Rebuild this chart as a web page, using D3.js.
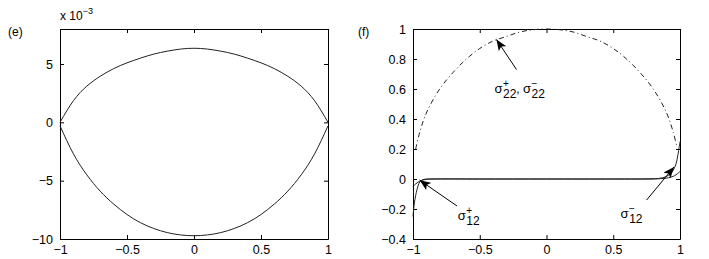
<!DOCTYPE html>
<html>
<head>
<meta charset="utf-8">
<script src="https://cdn.jsdelivr.net/npm/d3@7"></script>
<style>
  body { margin: 0; background: #fff; }
  svg { display: block; font-family: "Liberation Sans", Arial, sans-serif; }
</style>
</head>
<body>
<script>
// Panel (e): values in units of 1e-3
const eX     = [-1, -0.9, -0.8, -0.7, -0.6, -0.5, -0.4, -0.3, -0.2, -0.1, 0, 0.1, 0.2, 0.3, 0.4, 0.5, 0.6, 0.7, 0.8, 0.9, 1];
const eUpper = [0, 1.85, 3.1, 3.95, 4.6, 5.1, 5.5, 5.85, 6.1, 6.28, 6.35, 6.28, 6.1, 5.85, 5.5, 5.1, 4.6, 3.95, 3.1, 1.85, 0];
const eLower = [-0.3, -2.7, -4.5, -5.9, -7.0, -7.9, -8.6, -9.1, -9.45, -9.65, -9.72, -9.65, -9.45, -9.1, -8.6, -7.9, -7.0, -5.9, -4.5, -2.7, -0.3];
const eYTicks = [-10, -5, 0, 5];

// Panel (f): stresses
const s22X = [-0.98, -0.95, -0.9, -0.8, -0.7, -0.6, -0.5, -0.4, -0.3, -0.2, -0.1, 0, 0.1, 0.2, 0.3, 0.4, 0.5, 0.6, 0.7, 0.8, 0.9, 0.95, 0.975];
const s22  = [0.2, 0.31, 0.44, 0.6, 0.71, 0.8, 0.87, 0.92, 0.95, 0.98, 0.995, 1, 0.995, 0.98, 0.95, 0.92, 0.87, 0.8, 0.71, 0.6, 0.44, 0.31, 0.22];
const s12X = [-1, -0.995, -0.99, -0.98, -0.97, -0.96, -0.95, -0.93, -0.9, -0.85, -0.5, 0, 0.5, 0.8, 0.85, 0.88, 0.9, 0.93, 0.95, 0.97, 0.98, 0.99, 1];
const s12p = [-0.25, -0.2, -0.16, -0.11, -0.07, -0.04, -0.02, -0.006, 0, 0, 0, 0, 0, 0, 0.002, 0.004, 0.006, 0.012, 0.018, 0.028, 0.035, 0.042, 0.05];
const s12m = [-0.05, -0.045, -0.04, -0.033, -0.026, -0.02, -0.015, -0.008, -0.003, 0, 0, 0, 0, 0.002, 0.005, 0.011, 0.018, 0.036, 0.06, 0.1, 0.14, 0.19, 0.25];
const fYTicks = [-0.4, -0.2, 0, 0.2, 0.4, 0.6, 0.8, 1];

const xTicks = [-1, -0.5, 0, 0.5, 1];

// arrow annotations in data coordinates of panel (f)
const annotations = [
    { tip: [-0.375, 0.93], tail: [-0.225, 0.73], label: [-0.39, 0.575], parts: [["+", "22"], ["\u2212", "22"]] },
    { tip: [-0.95, -0.008], tail: [-0.67, -0.18], label: [-0.665, -0.27], parts: [["+", "12"]] },
    { tip: [0.955, 0.08], tail: [0.75, -0.14], label: [0.555, -0.26], parts: [["\u2212", "12"]] }
];

const fmt = d => String(d).replace("-", "\u2212");

const svg = d3.select("body").append("svg")
    .attr("width", 709)
    .attr("height", 259);

svg.append("defs").append("marker")
    .attr("id", "arrow")
    .attr("markerUnits", "userSpaceOnUse")
    .attr("markerWidth", 12)
    .attr("markerHeight", 10)
    .attr("refX", 11)
    .attr("refY", 4.5)
    .attr("orient", "auto")
    .append("path")
    .attr("d", "M0,0 L11,4.5 L0,9 L2.5,4.5 Z")
    .attr("fill", "#000");

function drawFrame(g, x, y, yTicks)
{
    const w = x.range()[1], h = y.range()[0];
    const tick = 4;

    g.append("g")
        .attr("transform", "translate(0," + h + ")")
        .call(d3.axisBottom(x).tickValues(xTicks).tickFormat(fmt).tickSizeInner(-tick).tickSizeOuter(0).tickPadding(6));
    g.append("g")
        .call(d3.axisTop(x).tickValues(xTicks).tickFormat("").tickSizeInner(-tick).tickSizeOuter(0));
    g.append("g")
        .call(d3.axisLeft(y).tickValues(yTicks).tickFormat(fmt).tickSizeInner(-tick).tickSizeOuter(0).tickPadding(7));
    g.append("g")
        .attr("transform", "translate(" + w + ",0)")
        .call(d3.axisRight(y).tickValues(yTicks).tickFormat("").tickSizeInner(-tick).tickSizeOuter(0));

    g.selectAll(".domain").attr("stroke", "#000");
    g.selectAll(".tick line").attr("stroke", "#000");
    g.selectAll(".tick text")
        .style("font-size", "12.5px")
        .attr("fill", "#000");
}

const line = (x, y, xs, curve) => d3.line()
    .x((d, i) => x(xs[i]))
    .y(d => y(d))
    .curve(curve || d3.curveCatmullRom.alpha(0.5));

// ---------- Panel (e) ----------
{
    const left = 60, top = 29, width = 268, height = 210;
    const g = svg.append("g").attr("transform", "translate(" + left + "," + top + ")");
    const x = d3.scaleLinear().domain([-1, 1]).range([0, width]);
    const y = d3.scaleLinear().domain([-10, 8]).range([height, 0]);

    drawFrame(g, x, y, eYTicks);

    [eUpper, eLower].forEach(series => {
        g.append("path")
            .datum(series)
            .attr("fill", "none")
            .attr("stroke", "#222")
            .attr("stroke-width", 1)
            .attr("d", line(x, y, eX, d3.curveNatural));
    });

    // exponent label
    const ex = g.append("text")
        .attr("x", 0)
        .attr("y", -9)
        .style("font-size", "12px")
        .text("x 10");
    ex.append("tspan")
        .attr("dy", -6)
        .style("font-size", "9px")
        .text("\u22123");

    svg.append("text")
        .attr("x", 8)
        .attr("y", 36)
        .style("font-size", "12px")
        .text("(e)");
}

// ---------- Panel (f) ----------
{
    const left = 413, top = 29, width = 267, height = 210;
    const g = svg.append("g").attr("transform", "translate(" + left + "," + top + ")");
    const x = d3.scaleLinear().domain([-1, 1]).range([0, width]);
    const y = d3.scaleLinear().domain([-0.4, 1]).range([height, 0]);

    drawFrame(g, x, y, fYTicks);

    g.append("path")
        .datum(s22)
        .attr("fill", "none")
        .attr("stroke", "#222")
        .attr("stroke-width", 1)
        .attr("stroke-dasharray", "5,3,1,3")
        .attr("d", line(x, y, s22X));

    [s12p, s12m].forEach(series => {
        g.append("path")
            .datum(series)
            .attr("fill", "none")
            .attr("stroke", "#222")
            .attr("stroke-width", 1)
            .attr("d", line(x, y, s12X));
    });

    // arrows and sigma labels (sup and sub stacked via tspans)
    annotations.forEach(a => {
        g.append("line")
            .attr("x1", x(a.tail[0]))
            .attr("y1", y(a.tail[1]))
            .attr("x2", x(a.tip[0]))
            .attr("y2", y(a.tip[1]))
            .attr("stroke", "#000")
            .attr("stroke-width", 1)
            .attr("marker-end", "url(#arrow)");

        const t = g.append("text")
            .attr("x", x(a.label[0]))
            .attr("y", y(a.label[1]))
            .style("font-size", "13px");
        a.parts.forEach((p, k) => {
            if (k > 0) t.append("tspan").attr("dy", -5).style("font-size", "12px").text(", ");
            t.append("tspan").text("\u03c3");
            t.append("tspan").attr("dx", 0.5).attr("dy", -6).style("font-size", "10px").text(p[0]);
            t.append("tspan").attr("dx", -5.8).attr("dy", 11).style("font-size", "12px").text(p[1]);
        });
    });

    svg.append("text")
        .attr("x", 358)
        .attr("y", 36)
        .style("font-size", "12px")
        .text("(f)");
}
</script>
</body>
</html>
